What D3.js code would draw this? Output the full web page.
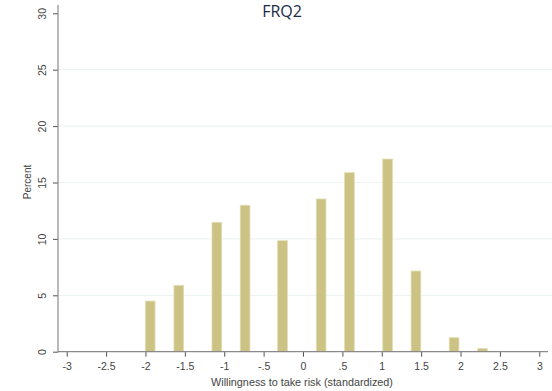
<!DOCTYPE html>
<html><head><meta charset="utf-8">
<script src="https://cdn.jsdelivr.net/npm/d3@7"></script>
<style>body{margin:0;background:#fff}svg{display:block}</style>
</head><body>
<script>
const binCenters = [-1.94, -1.577, -1.094, -0.735, -0.26, 0.23, 0.59, 1.074, 1.434, 1.918, 2.279];
const percents   = [4.49, 5.88, 11.47, 12.98, 9.84, 13.54, 15.87, 17.08, 7.15, 1.24, 0.27];
const binWidth = 0.123;
const xTicks = [-3, -2.5, -2, -1.5, -1, -0.5, 0, 0.5, 1, 1.5, 2, 2.5, 3];
const xTickLabels = ["-3", "-2.5", "-2", "-1.5", "-1", "-.5", "0", ".5", "1", "1.5", "2", "2.5", "3"];
const yTicks = [0, 5, 10, 15, 20, 25, 30];
const title = "FRQ2";
const xTitle = "Willingness to take risk (standardized)";
const yTitle = "Percent";

const W = 552, H = 391;
const svg = d3.select("body").append("svg").attr("width", W).attr("height", H);
const x = d3.scaleLinear().domain([-3, 3]).range([66.7, 539.3]);
const y = d3.scaleLinear().domain([0, 30]).range([351.7, 13.3]);
const axisX = 58, plotRight = 548;
const font = "Liberation Sans, Arial, sans-serif";

// gridlines
svg.append("g").selectAll("line").data(yTicks.filter(d => d > 0 && d < 30)).join("line")
  .attr("x1", axisX).attr("x2", W).attr("y1", d => y(d)).attr("y2", d => y(d))
  .attr("stroke", "#eef3f3").attr("stroke-width", 1.2);

// bars
svg.append("g").selectAll("rect").data(binCenters.map((c, i) => ({c, v: percents[i]}))).join("rect")
  .attr("x", d => x(d.c - binWidth / 2))
  .attr("width", d => x(d.c + binWidth / 2) - x(d.c - binWidth / 2))
  .attr("y", d => y(d.v))
  .attr("height", d => y(0) - y(d.v))
  .attr("fill", "#cbc283").attr("stroke", "#e2ddb4").attr("stroke-width", 0.8);

// y axis
const yAxis = svg.append("g").attr("transform", `translate(${axisX},0)`)
  .call(d3.axisLeft(y).tickValues(yTicks).tickSize(5).tickFormat(d3.format("d")));
yAxis.select(".domain").remove();
yAxis.append("line").attr("x1", 0).attr("x2", 0).attr("y1", 5).attr("y2", y(0) + 0.5)
  .attr("stroke", "#8a8a8a").attr("stroke-width", 1.2);
yAxis.selectAll(".tick line").attr("stroke", "#555");
yAxis.selectAll(".tick text")
  .attr("transform", "rotate(-90)").attr("x", 0).attr("y", -12)
  .attr("dy", 0).attr("text-anchor", "middle")
  .attr("font-family", font).attr("font-size", 10.5).attr("fill", "#444");

// x axis
const xAxis = svg.append("g").attr("transform", `translate(0,${y(0)})`)
  .call(d3.axisBottom(x).tickValues(xTicks).tickSize(5).tickFormat((d, i) => xTickLabels[i]));
xAxis.select(".domain").remove();
xAxis.append("line").attr("x1", axisX).attr("x2", plotRight).attr("y1", 0).attr("y2", 0)
  .attr("stroke", "#8a8a8a").attr("stroke-width", 1.2);
xAxis.selectAll(".tick line").attr("stroke", "#555");
xAxis.selectAll(".tick text").attr("y", 11)
  .attr("font-family", font).attr("font-size", 10.5).attr("fill", "#444");

// axis titles
svg.append("text").attr("x", 302).attr("y", 386).attr("text-anchor", "middle")
  .attr("font-family", font).attr("font-size", 10.8).attr("fill", "#444")
  .text(xTitle);
svg.append("text").attr("transform", "translate(31,182) rotate(-90)").attr("text-anchor", "middle")
  .attr("font-family", font).attr("font-size", 10).attr("fill", "#444")
  .text(yTitle);

// title
svg.append("text").attr("x", 282).attr("y", 17).attr("text-anchor", "middle")
  .attr("font-family", "Open Sans, Noto Sans, sans-serif").attr("font-size", 16).attr("fill", "#1b2a47")
  .text(title);
</script>
</body></html>
